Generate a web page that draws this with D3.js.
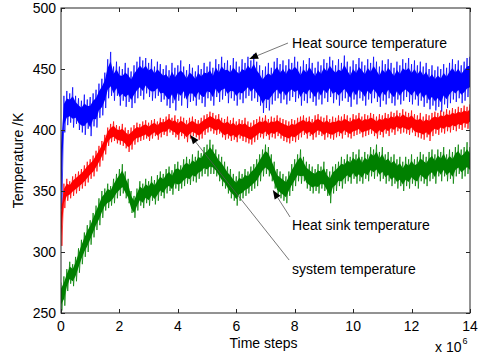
<!DOCTYPE html>
<html>
<head>
<meta charset="utf-8">
<script src="https://cdn.jsdelivr.net/npm/d3@7"></script>
<style>
  body { margin: 0; background: #fff; }
  text { font-family: "Liberation Sans", Arial, sans-serif; fill: #000; }
</style>
</head>
<body>
<svg id="chart"></svg>
<script>
const width = 481;
const height = 360;
const margin = { left: 61, right: 11, top: 8, bottom: 47 };

// samples are binned every 0.1 x 10^6 steps; each bin keeps its high and low reading
const binStep = 0.1;
const xTicks = [0, 2, 4, 6, 8, 10, 12, 14];
const yTicks = [250, 300, 350, 400, 450, 500];

const sourceHi = [400,428,432,430,435,428,426,424,429,425,427,430,433,438,442,447,458,464,452,456,
  452,450,455,451,448,453,456,460,457,459,455,458,452,456,454,450,453,449,455,451,
  453,457,452,449,454,451,448,453,450,455,452,456,451,458,454,460,455,457,453,459,
  456,452,458,455,460,457,462,456,453,449,452,455,451,456,459,454,457,453,458,455,
  460,456,452,457,454,459,455,451,456,453,458,455,460,457,453,458,455,461,456,452,
  457,454,459,456,453,458,455,460,456,452,457,454,458,455,451,456,453,458,455,459,
  454,457,453,456,452,455,450,453,449,452,450,454,451,455,458,454,457,453,456,459,460];
const sourceLo = [335,398,404,406,402,405,400,398,396,401,395,403,402,410,412,418,426,428,424,428,
  420,424,419,423,418,422,426,428,425,430,427,424,426,428,423,425,420,418,422,416,
  424,420,426,418,423,424,420,425,422,419,426,424,420,427,423,425,428,422,426,424,
  420,425,422,426,428,424,426,423,420,414,418,416,421,424,426,422,425,421,424,427,
  423,426,420,424,422,426,423,420,425,421,426,423,427,422,425,420,424,426,423,419,
  425,421,426,424,420,425,422,426,423,419,424,421,426,422,420,425,421,424,427,423,
  421,425,420,424,419,422,417,420,416,419,415,421,418,422,425,423,426,422,424,427,428];

const sinkHi = [340,356,360,358,362,364,366,368,371,374,376,379,383,387,391,396,402,405,407,404,
  403,405,402,400,402,404,406,405,407,408,406,408,409,407,410,409,411,413,410,412,
  409,411,410,408,410,411,409,408,410,412,413,415,414,412,413,410,409,411,408,410,
  407,409,408,410,407,406,408,409,411,410,412,409,411,410,412,410,409,408,407,409,
  408,410,411,412,410,411,409,412,413,411,410,412,409,411,410,412,411,413,412,410,
  413,412,414,411,413,412,414,413,411,413,412,414,413,415,414,416,414,417,415,414,
  416,413,412,414,411,413,412,414,415,414,416,415,417,416,418,417,419,418,420,419,421];
const sinkLo = [305,336,342,344,346,348,350,352,354,357,360,362,366,370,375,380,387,390,391,389,
  388,387,385,382,384,388,390,391,392,393,391,393,395,392,394,396,395,398,396,394,
  392,395,393,390,393,395,394,392,393,396,398,399,397,396,397,394,392,393,391,392,
  390,393,391,390,389,388,390,392,394,393,395,392,394,393,395,393,391,390,389,391,
  390,392,394,396,393,395,392,394,396,395,392,394,393,392,394,395,393,396,394,393,
  395,396,397,394,395,396,397,395,393,396,394,397,395,398,396,399,397,398,397,396,
  398,395,394,393,392,394,391,395,397,396,398,397,399,398,400,399,401,400,402,401,403];

const systemHi = [275,280,286,292,290,296,303,310,316,322,326,332,338,344,350,352,356,354,360,364,
  368,372,366,360,350,346,352,358,356,360,358,362,359,363,366,364,368,370,367,372,
  374,371,376,378,376,380,378,383,381,386,388,392,388,384,380,378,374,370,368,364,
  362,366,364,368,366,370,372,376,380,384,388,386,380,374,368,366,364,362,366,372,
  376,380,384,378,374,372,370,368,372,370,374,368,366,370,372,374,378,376,380,378,
  382,380,384,378,382,380,386,384,388,382,386,380,382,378,380,376,378,374,378,376,
  380,376,378,382,380,378,382,384,380,384,382,386,380,384,382,386,388,384,386,390,386];
const systemLo = [252,256,268,274,272,276,283,290,296,300,306,312,318,322,328,334,336,338,340,344,
  346,348,344,340,332,328,334,338,336,340,338,342,339,342,346,344,348,350,347,352,
  350,352,354,356,355,358,357,360,362,364,362,364,364,362,358,354,352,348,344,342,
  338,342,344,346,348,350,352,354,358,362,364,362,358,352,346,344,342,340,346,350,
  354,358,356,358,352,350,348,350,348,352,350,346,340,348,350,354,352,356,358,356,
  360,356,358,356,360,358,362,360,362,358,360,356,358,354,356,352,354,350,354,352,
  356,354,352,358,356,354,358,360,356,362,358,362,358,360,356,362,364,360,362,364,362];

const seriesList = [
  { name: "source", hi: sourceHi, lo: sourceLo, color: "#0000ff" },
  { name: "sink", hi: sinkHi, lo: sinkLo, color: "#ff0000" },
  { name: "system", hi: systemHi, lo: systemLo, color: "#008000" }
];

// annotation label, arrow start and arrow tip, in data units
const annotations = [
  { label: "Heat source temperature", text: [7.91, 467.2], from: [7.77, 471.3], to: [6.44, 458.2] },
  { label: "Heat sink temperature", text: [7.91, 318], from: [7.84, 328.7], to: [7.25, 350.8] },
  { label: "system temperature", text: [7.91, 282], from: [7.81, 293.4], to: [4.42, 395.9] }
];

const svg = d3.select("#chart").attr("width", width).attr("height", height);

const x = d3.scaleLinear().domain([0, 14]).range([margin.left, width - margin.right]);
const y = d3.scaleLinear().domain([250, 500]).range([height - margin.bottom, margin.top]);

svg.append("defs").append("clipPath").attr("id", "plotClip")
  .append("rect")
  .attr("x", x(0)).attr("y", y(500))
  .attr("width", x(14) - x(0)).attr("height", y(250) - y(500));

// dense core of each noisy trace, a bit inside the extremes
const inset = 0.22;
const core = d3.area()
  .x((d, i) => x(i * binStep))
  .y0(d => y(d[1] + inset * (d[0] - d[1])))
  .y1(d => y(d[0] - inset * (d[0] - d[1])));
const line = d3.line().x(d => x(d[0])).y(d => y(d[1]));

const plot = svg.append("g").attr("clip-path", "url(#plotClip)");

seriesList.forEach(s => {
  const pairs = s.hi.map((h, i) => [h, s.lo[i]]);
  plot.append("path")
    .datum(pairs)
    .attr("fill", s.color)
    .attr("d", core);
  // spikes: trace runs up to each bin's high, then down to its low
  const pts = [];
  s.hi.forEach((h, i) => {
    pts.push([i * binStep, h]);
    pts.push([i * binStep + binStep * 0.3, s.lo[i]]);
  });
  plot.append("path")
    .datum(pts)
    .attr("fill", "none")
    .attr("stroke", s.color)
    .attr("stroke-width", 1)
    .attr("stroke-opacity", 0.75)
    .attr("d", line);
});

// box and inward ticks, matlab style
const axisColor = "#262626";
const tickLen = 4;
const axes = svg.append("g").attr("stroke", axisColor).attr("stroke-width", 1);
axes.append("rect")
  .attr("x", x(0)).attr("y", y(500))
  .attr("width", x(14) - x(0)).attr("height", y(250) - y(500))
  .attr("fill", "none");

xTicks.forEach(t => {
  const px = Math.round(x(t)) + 0.5;
  axes.append("line").attr("x1", px).attr("x2", px).attr("y1", y(250)).attr("y2", y(250) - tickLen);
  axes.append("line").attr("x1", px).attr("x2", px).attr("y1", y(500)).attr("y2", y(500) + tickLen);
  svg.append("text").attr("x", x(t)).attr("y", y(250) + 18)
    .attr("text-anchor", "middle").attr("font-size", 14).text(t);
});
yTicks.forEach(v => {
  const py = Math.round(y(v)) + 0.5;
  axes.append("line").attr("x1", x(0)).attr("x2", x(0) + tickLen).attr("y1", py).attr("y2", py);
  axes.append("line").attr("x1", x(14)).attr("x2", x(14) - tickLen).attr("y1", py).attr("y2", py);
  svg.append("text").attr("x", x(0) - 5).attr("y", y(v) + 5)
    .attr("text-anchor", "end").attr("font-size", 14).text(v);
});

svg.append("text")
  .attr("x", (x(0) + x(14)) / 2 - 2).attr("y", height - 12)
  .attr("text-anchor", "middle").attr("font-size", 14).text("Time steps");

svg.append("text")
  .attr("transform", `translate(23,${(y(250) + y(500)) / 2}) rotate(-90)`)
  .attr("text-anchor", "middle").attr("font-size", 14).text("Temperature /K");

const expo = svg.append("text").attr("x", 435).attr("y", 352).attr("font-size", 14);
expo.append("tspan").text("x 10");
expo.append("tspan").attr("font-size", 9).attr("dy", -8).attr("dx", 1).text("6");

// annotations with arrows
annotations.forEach(a => {
  const x1 = x(a.from[0]), y1 = y(a.from[1]);
  const x2 = x(a.to[0]), y2 = y(a.to[1]);
  const ang = Math.atan2(y2 - y1, x2 - x1);
  const len = 9, half = 3.5;
  const bx = x2 - len * Math.cos(ang), by = y2 - len * Math.sin(ang);
  svg.append("line")
    .attr("x1", x1).attr("y1", y1).attr("x2", bx).attr("y2", by)
    .attr("stroke", "#555").attr("stroke-width", 0.8);
  const px = -Math.sin(ang), py = Math.cos(ang);
  svg.append("polygon")
    .attr("points", [[x2, y2], [bx + half * px, by + half * py], [bx - half * px, by - half * py]].map(p => p.join(",")).join(" "))
    .attr("fill", "#000");
  svg.append("text")
    .attr("x", x(a.text[0])).attr("y", y(a.text[1]))
    .attr("font-size", 14).text(a.label);
});
</script>
</body>
</html>
